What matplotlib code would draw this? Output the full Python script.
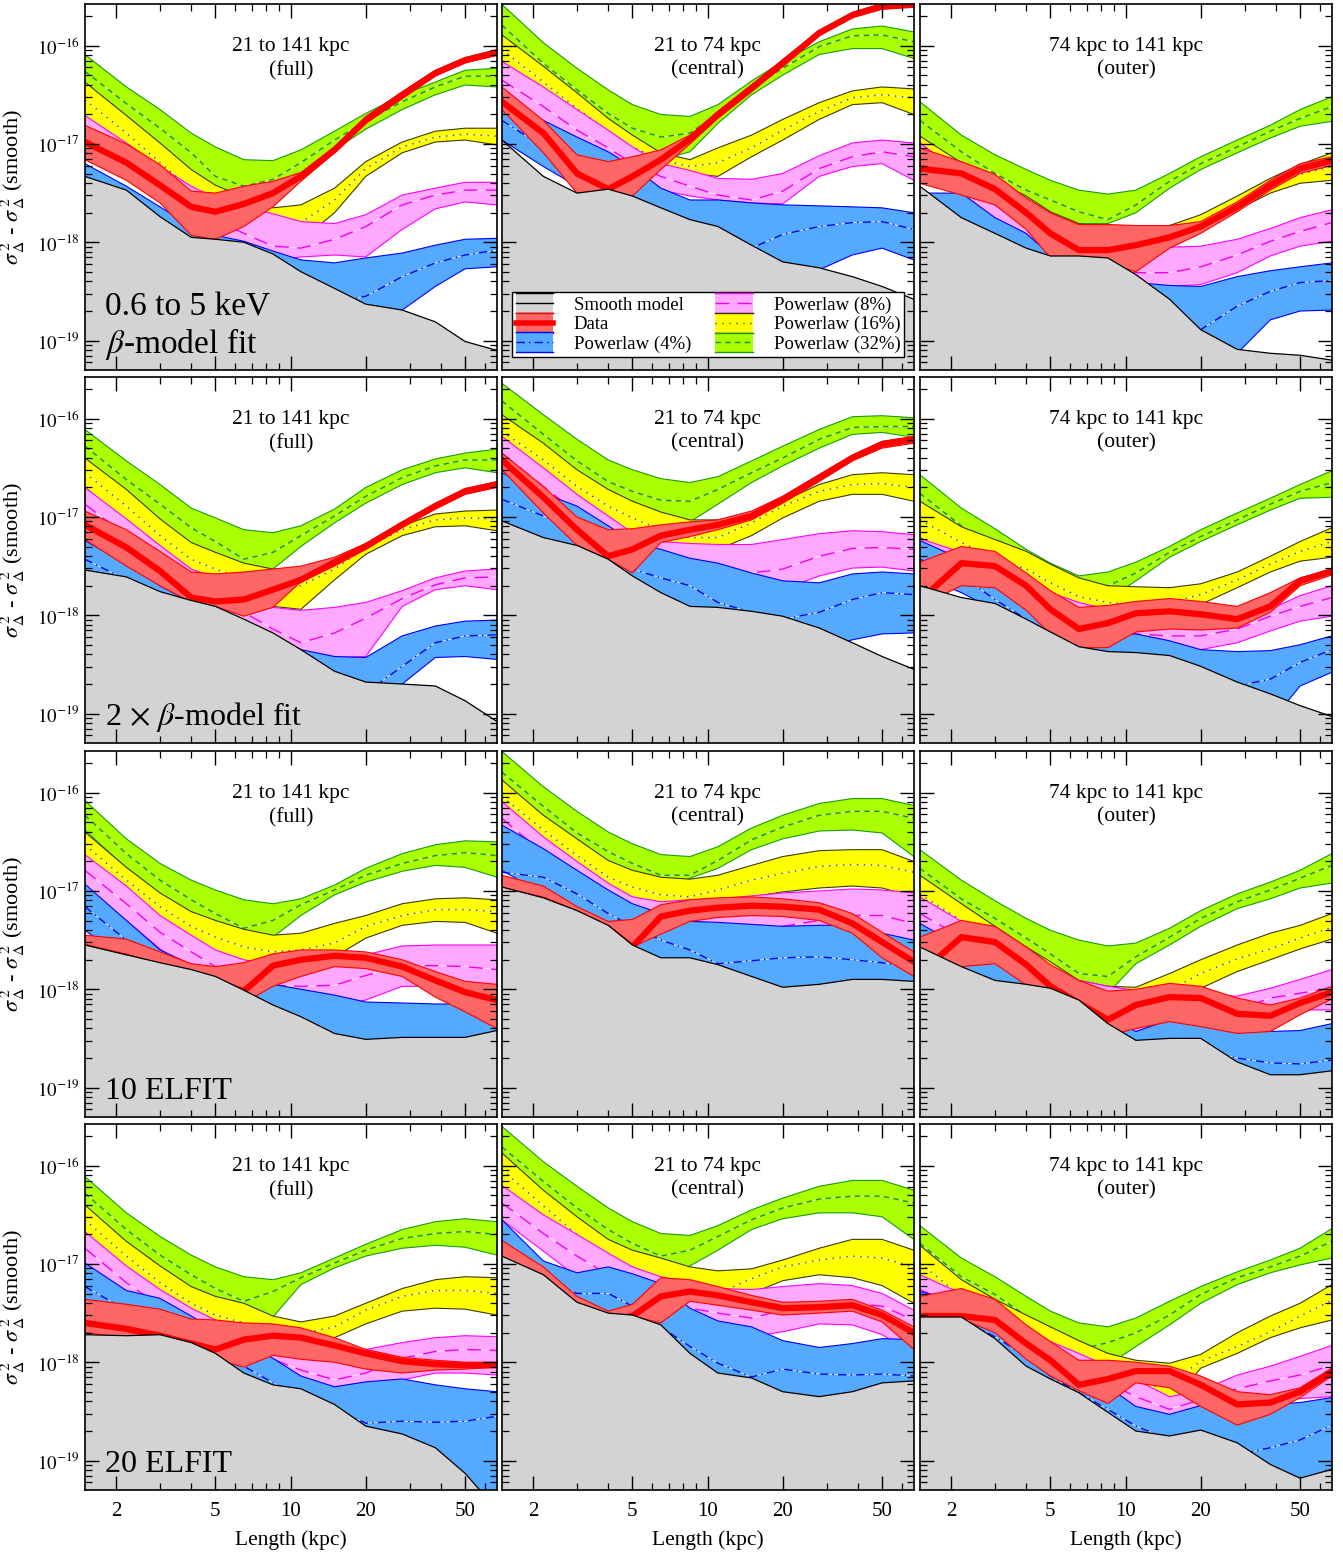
import numpy as np
import matplotlib
matplotlib.use("Agg")
import matplotlib.pyplot as plt
from matplotlib.patches import Rectangle
from matplotlib.lines import Line2D
from matplotlib.legend_handler import HandlerBase
from matplotlib.ticker import FixedLocator, NullFormatter

plt.rcParams['font.family'] = ['Liberation Serif', 'DejaVu Serif']
plt.rcParams['mathtext.fontset'] = 'stix'

# length scale grid (kpc), shared by every panel
length_kpc = [1.5, 2.2, 3, 4, 5, 6.5, 8.5, 11, 15, 20, 28, 38, 50, 67]

col_titles = ['21 to 141 kpc\n(full)', '21 to 74 kpc\n(central)', '74 kpc to 141 kpc\n(outer)']
row_labels = [['0.6 to 5 keV', r'$\beta$-model fit'], [r'2 $\times$ $\beta$-model fit'],
              ['10 ELFIT'], ['20 ELFIT']]
x_tick_values = [2, 5, 10, 20, 50]
x_tick_labels = ['2', '5', '10', '20', '50']
y_tick_values = [1e-19, 1e-18, 1e-17, 1e-16]
legend_labels = ['Smooth model', 'Data', 'Powerlaw (4%)', 'Powerlaw (8%)',
                 'Powerlaw (16%)', 'Powerlaw (32%)']

# all values are log10 of sigma^2 - sigma^2(smooth); rows = panels, row by row
smooth = [
    [-17.33, -17.47, -17.74, -17.95, -17.97, -18.00, -18.12, -18.30, -18.47, -18.63, -18.69, -18.81, -19.01, -19.10],
    [-16.96, -17.33, -17.50, -17.46, -17.53, -17.65, -17.77, -17.84, -18.03, -18.20, -18.26, -18.35, -18.45, -18.58],
    [-17.43, -17.75, -17.91, -18.06, -18.14, -18.14, -18.16, -18.33, -18.58, -18.89, -19.09, -19.13, -19.15, -19.20],
    [-17.54, -17.61, -17.76, -17.85, -17.91, -18.04, -18.18, -18.35, -18.57, -18.68, -18.70, -18.72, -18.87, -19.08],
    [-17.04, -17.21, -17.29, -17.43, -17.60, -17.77, -17.91, -17.92, -17.96, -18.01, -18.13, -18.28, -18.42, -18.55],
    [-17.70, -17.82, -17.88, -18.04, -18.17, -18.32, -18.37, -18.38, -18.41, -18.52, -18.68, -18.80, -18.92, -19.03],
    [-17.55, -17.65, -17.73, -17.80, -17.87, -18.01, -18.16, -18.28, -18.45, -18.51, -18.49, -18.49, -18.49, -18.42],
    [-16.96, -17.07, -17.20, -17.35, -17.55, -17.68, -17.68, -17.75, -17.87, -17.98, -17.95, -17.90, -17.90, -17.92],
    [-17.57, -17.77, -17.91, -17.95, -17.99, -18.11, -18.35, -18.52, -18.50, -18.50, -18.74, -18.87, -18.87, -18.83],
    [-17.72, -17.73, -17.72, -17.80, -17.91, -18.11, -18.23, -18.27, -18.43, -18.65, -18.73, -18.87, -19.13, -19.50],
    [-16.92, -17.11, -17.39, -17.50, -17.52, -17.62, -17.91, -18.11, -18.16, -18.30, -18.35, -18.30, -18.21, -18.19],
    [-17.54, -17.54, -17.76, -18.04, -18.17, -18.31, -18.51, -18.70, -18.75, -18.69, -18.82, -19.04, -19.18, -19.09],
]

data_mid = [
    [-16.98, -17.19, -17.42, -17.64, -17.69, -17.61, -17.50, -17.33, -17.06, -16.76, -16.50, -16.28, -16.15, -16.07],
    [-16.57, -16.89, -17.30, -17.46, -17.33, -17.16, -16.95, -16.70, -16.43, -16.18, -15.87, -15.69, -15.60, -15.58],
    [-17.25, -17.30, -17.46, -17.70, -17.91, -18.08, -18.08, -18.03, -17.95, -17.84, -17.64, -17.42, -17.25, -17.17],
    [-17.08, -17.31, -17.55, -17.82, -17.86, -17.84, -17.74, -17.64, -17.46, -17.30, -17.08, -16.89, -16.74, -16.67],
    [-16.42, -16.80, -17.13, -17.40, -17.33, -17.19, -17.13, -17.08, -16.99, -16.82, -16.60, -16.40, -16.26, -16.21],
    [-17.85, -17.47, -17.50, -17.70, -17.94, -18.14, -18.08, -17.98, -17.96, -17.99, -18.04, -17.91, -17.65, -17.55],
    [-17.57, -17.67, -17.77, -17.85, -17.92, -18.02, -17.76, -17.70, -17.66, -17.68, -17.77, -17.91, -18.03, -18.11],
    [-16.99, -17.09, -17.23, -17.38, -17.57, -17.26, -17.20, -17.17, -17.15, -17.16, -17.19, -17.33, -17.52, -17.72],
    [-17.84, -17.47, -17.52, -17.75, -17.97, -18.14, -18.31, -18.16, -18.08, -18.09, -18.25, -18.27, -18.14, -18.03],
    [-17.60, -17.66, -17.73, -17.81, -17.87, -17.77, -17.73, -17.75, -17.83, -17.91, -17.99, -18.02, -18.03, -18.03],
    [-16.99, -17.18, -17.43, -17.57, -17.53, -17.33, -17.28, -17.32, -17.39, -17.45, -17.44, -17.42, -17.52, -17.70],
    [-17.53, -17.53, -17.57, -17.81, -17.98, -18.23, -18.17, -18.09, -18.09, -18.23, -18.43, -18.41, -18.30, -18.10],
]

data_hi = [
    [-16.81, -17.00, -17.21, -17.48, -17.50, -17.43, -17.38, -17.29, -17.03, -16.72, -16.47, -16.25, -16.12, -16.04],
    [-16.42, -16.76, -17.11, -17.18, -17.13, -17.06, -16.91, -16.67, -16.40, -16.14, -15.85, -15.66, -15.57, -15.56],
    [-17.04, -17.18, -17.31, -17.55, -17.70, -17.82, -17.82, -17.83, -17.83, -17.79, -17.59, -17.37, -17.20, -17.13],
    [-16.94, -17.13, -17.35, -17.56, -17.58, -17.56, -17.53, -17.50, -17.41, -17.27, -17.05, -16.86, -16.71, -16.64],
    [-16.35, -16.69, -17.00, -17.13, -17.12, -17.08, -17.05, -17.03, -16.94, -16.79, -16.57, -16.37, -16.23, -16.18],
    [-17.46, -17.30, -17.35, -17.57, -17.75, -17.92, -17.90, -17.86, -17.83, -17.86, -17.91, -17.77, -17.62, -17.53],
    [-17.45, -17.49, -17.62, -17.74, -17.77, -17.73, -17.64, -17.60, -17.60, -17.62, -17.70, -17.82, -17.92, -17.95],
    [-16.84, -16.95, -17.16, -17.31, -17.29, -17.14, -17.09, -17.07, -17.06, -17.08, -17.12, -17.23, -17.42, -17.62],
    [-17.47, -17.30, -17.36, -17.57, -17.75, -17.91, -18.02, -18.00, -17.94, -17.97, -18.09, -18.16, -18.09, -17.97],
    [-17.36, -17.41, -17.46, -17.56, -17.57, -17.60, -17.61, -17.65, -17.75, -17.87, -17.95, -17.98, -18.00, -18.00],
    [-16.76, -17.03, -17.33, -17.48, -17.41, -17.14, -17.16, -17.23, -17.32, -17.39, -17.38, -17.36, -17.47, -17.64],
    [-17.33, -17.25, -17.36, -17.62, -17.79, -17.98, -17.98, -18.00, -18.04, -18.14, -18.30, -18.33, -18.26, -18.06],
]

data_lo = [
    [-17.16, -17.37, -17.60, -17.93, -17.97, -17.84, -17.64, -17.38, -17.09, -16.79, -16.54, -16.31, -16.17, -16.10],
    [-16.65, -17.09, -17.50, -17.47, -17.53, -17.26, -17.00, -16.74, -16.47, -16.21, -15.90, -15.71, -15.63, -15.61],
    [-17.40, -17.52, -17.62, -17.87, -18.16, -18.18, -18.21, -18.30, -18.06, -17.91, -17.69, -17.47, -17.30, -17.22],
    [-17.23, -17.50, -17.70, -17.87, -17.91, -18.01, -17.92, -17.66, -17.50, -17.33, -17.10, -16.92, -16.77, -16.70],
    [-16.52, -16.96, -17.29, -17.43, -17.57, -17.26, -17.20, -17.13, -17.03, -16.86, -16.64, -16.43, -16.30, -16.25],
    [-17.91, -17.70, -17.72, -17.95, -18.19, -18.33, -18.33, -18.17, -18.14, -18.15, -18.13, -17.97, -17.70, -17.59],
    [-17.59, -17.70, -17.84, -17.92, -18.01, -18.14, -17.97, -17.87, -17.77, -17.79, -17.87, -18.08, -18.23, -18.40],
    [-16.96, -17.08, -17.22, -17.37, -17.57, -17.44, -17.31, -17.27, -17.25, -17.26, -17.30, -17.43, -17.68, -17.87],
    [-17.91, -17.77, -17.74, -17.96, -18.04, -18.21, -18.47, -18.40, -18.33, -18.38, -18.45, -18.43, -18.26, -18.10],
    [-17.70, -17.75, -17.79, -17.87, -17.97, -18.05, -17.93, -17.97, -18.00, -18.07, -18.11, -18.08, -18.07, -18.05],
    [-16.94, -17.14, -17.42, -17.52, -17.53, -17.60, -17.38, -17.42, -17.47, -17.52, -17.50, -17.48, -17.59, -17.87],
    [-17.57, -17.56, -17.70, -17.97, -18.14, -18.29, -18.42, -18.21, -18.26, -18.45, -18.64, -18.53, -18.36, -18.14],
]

# powerlaw 32 %
pl32_hi = [
    [-16.09, -16.42, -16.65, -16.89, -17.03, -17.16, -17.17, -17.06, -16.87, -16.69, -16.50, -16.37, -16.25, -16.23],
    [-15.58, -15.97, -16.23, -16.45, -16.60, -16.70, -16.72, -16.60, -16.36, -16.16, -15.96, -15.83, -15.80, -15.86],
    [-16.57, -16.91, -17.11, -17.26, -17.37, -17.47, -17.51, -17.47, -17.30, -17.13, -16.96, -16.81, -16.65, -16.52],
    [-16.11, -16.43, -16.67, -16.91, -17.01, -17.13, -17.16, -17.09, -16.92, -16.70, -16.52, -16.41, -16.35, -16.31],
    [-15.64, -15.96, -16.21, -16.42, -16.52, -16.61, -16.65, -16.59, -16.43, -16.28, -16.11, -15.98, -15.97, -15.99],
    [-16.57, -16.91, -17.12, -17.33, -17.47, -17.60, -17.56, -17.46, -17.30, -17.13, -16.96, -16.81, -16.67, -16.53],
    [-16.08, -16.47, -16.72, -16.89, -16.99, -17.09, -17.13, -17.08, -16.94, -16.77, -16.62, -16.53, -16.49, -16.50],
    [-15.58, -15.94, -16.19, -16.40, -16.52, -16.63, -16.65, -16.55, -16.36, -16.23, -16.11, -16.06, -16.06, -16.13],
    [-16.58, -16.89, -17.10, -17.28, -17.40, -17.50, -17.56, -17.53, -17.38, -17.20, -17.03, -16.91, -16.79, -16.62],
    [-16.11, -16.48, -16.72, -16.91, -17.03, -17.13, -17.16, -17.09, -16.94, -16.80, -16.65, -16.57, -16.54, -16.57],
    [-15.60, -15.96, -16.21, -16.43, -16.57, -16.69, -16.71, -16.61, -16.45, -16.33, -16.21, -16.15, -16.15, -16.25],
    [-16.61, -16.94, -17.13, -17.33, -17.48, -17.60, -17.64, -17.55, -17.38, -17.23, -17.08, -16.96, -16.84, -16.64],
]
pl32_mid = [
    [-16.26, -16.59, -16.84, -17.09, -17.33, -17.43, -17.36, -17.19, -16.96, -16.77, -16.57, -16.42, -16.31, -16.31],
    [-15.79, -16.18, -16.45, -16.69, -16.84, -16.93, -16.89, -16.69, -16.43, -16.23, -16.01, -15.90, -15.89, -15.96],
    [-16.76, -17.08, -17.30, -17.47, -17.57, -17.69, -17.77, -17.62, -17.38, -17.20, -17.03, -16.87, -16.74, -16.62],
    [-16.28, -16.62, -16.87, -17.11, -17.25, -17.43, -17.36, -17.19, -16.99, -16.79, -16.60, -16.48, -16.42, -16.42],
    [-15.82, -16.16, -16.43, -16.64, -16.74, -16.83, -16.84, -16.72, -16.55, -16.40, -16.21, -16.09, -16.08, -16.08],
    [-16.76, -17.09, -17.30, -17.50, -17.65, -17.77, -17.70, -17.57, -17.36, -17.20, -17.03, -16.87, -16.74, -16.65],
    [-16.23, -16.62, -16.89, -17.09, -17.23, -17.38, -17.30, -17.14, -16.99, -16.84, -16.72, -16.64, -16.61, -16.64],
    [-15.79, -16.14, -16.41, -16.60, -16.72, -16.84, -16.84, -16.69, -16.48, -16.35, -16.23, -16.19, -16.19, -16.26],
    [-16.77, -17.08, -17.28, -17.48, -17.64, -17.84, -17.87, -17.67, -17.47, -17.28, -17.11, -16.99, -16.87, -16.74],
    [-16.28, -16.65, -16.91, -17.11, -17.25, -17.38, -17.28, -17.14, -16.99, -16.86, -16.74, -16.69, -16.67, -16.70],
    [-15.81, -16.16, -16.43, -16.65, -16.79, -16.92, -16.86, -16.72, -16.55, -16.43, -16.34, -16.31, -16.31, -16.38],
    [-16.79, -17.13, -17.31, -17.53, -17.70, -17.87, -17.80, -17.70, -17.52, -17.31, -17.14, -17.03, -16.92, -16.77],
]
pl32_lo = [
    [-16.42, -16.75, -17.03, -17.30, -17.50, -17.64, -17.57, -17.33, -17.06, -16.85, -16.65, -16.50, -16.40, -16.42],
    [-15.99, -16.38, -16.67, -16.92, -17.08, -17.16, -17.08, -16.79, -16.50, -16.30, -16.09, -16.03, -16.03, -16.13],
    [-16.94, -17.26, -17.48, -17.67, -17.77, -17.81, -17.81, -17.70, -17.45, -17.26, -17.09, -16.94, -16.82, -16.77],
    [-16.45, -16.80, -17.08, -17.31, -17.46, -17.53, -17.53, -17.30, -17.06, -16.86, -16.67, -16.55, -16.50, -16.55],
    [-16.01, -16.36, -16.65, -16.86, -16.96, -17.03, -17.05, -16.87, -16.65, -16.48, -16.30, -16.16, -16.14, -16.19],
    [-16.94, -17.28, -17.48, -17.67, -17.81, -17.91, -17.84, -17.65, -17.41, -17.25, -17.08, -16.93, -16.81, -16.80],
    [-16.38, -16.77, -17.06, -17.30, -17.43, -17.47, -17.47, -17.25, -17.04, -16.91, -16.80, -16.74, -16.76, -16.86],
    [-15.99, -16.35, -16.62, -16.81, -16.92, -17.01, -16.87, -16.77, -16.58, -16.47, -16.39, -16.38, -16.41, -16.65],
    [-16.96, -17.26, -17.47, -17.67, -17.84, -18.01, -18.04, -17.74, -17.55, -17.36, -17.18, -17.08, -16.97, -16.92],
    [-16.45, -16.82, -17.09, -17.31, -17.47, -17.57, -17.54, -17.21, -17.04, -16.92, -16.84, -16.81, -16.83, -16.91],
    [-16.01, -16.36, -16.65, -16.87, -17.01, -17.12, -17.02, -16.86, -16.65, -16.54, -16.48, -16.48, -16.52, -16.75],
    [-16.97, -17.31, -17.50, -17.72, -17.87, -18.04, -18.03, -17.84, -17.62, -17.40, -17.21, -17.09, -17.01, -16.94],
]

# powerlaw 16 %
pl16_hi = [
    [-16.37, -16.71, -16.99, -17.26, -17.42, -17.54, -17.65, -17.62, -17.45, -17.18, -16.98, -16.87, -16.84, -16.84],
    [-15.89, -16.21, -16.48, -16.74, -16.91, -17.09, -17.16, -17.04, -16.91, -16.75, -16.58, -16.46, -16.42, -16.44],
    [-16.92, -17.19, -17.37, -17.53, -17.69, -17.81, -17.87, -17.87, -17.83, -17.72, -17.53, -17.35, -17.21, -17.09],
    [-16.40, -16.72, -17.02, -17.26, -17.36, -17.47, -17.53, -17.55, -17.43, -17.27, -17.09, -16.97, -16.94, -16.93],
    [-15.96, -16.25, -16.52, -16.72, -16.84, -16.95, -17.03, -17.03, -16.96, -16.84, -16.67, -16.57, -16.55, -16.57],
    [-16.84, -17.10, -17.23, -17.35, -17.48, -17.62, -17.70, -17.71, -17.72, -17.68, -17.56, -17.40, -17.25, -17.11],
    [-16.40, -16.76, -17.02, -17.21, -17.30, -17.39, -17.45, -17.43, -17.33, -17.25, -17.13, -17.08, -17.07, -17.09],
    [-15.87, -16.23, -16.47, -16.69, -16.79, -16.86, -16.88, -16.84, -16.74, -16.65, -16.59, -16.58, -16.58, -16.70],
    [-16.84, -17.13, -17.36, -17.57, -17.72, -17.91, -17.97, -17.98, -17.84, -17.70, -17.55, -17.43, -17.35, -17.23],
    [-16.40, -16.77, -17.02, -17.23, -17.33, -17.40, -17.53, -17.59, -17.53, -17.40, -17.25, -17.16, -17.13, -17.14],
    [-15.87, -16.25, -16.52, -16.75, -16.86, -16.94, -17.03, -17.07, -17.05, -16.96, -16.84, -16.75, -16.75, -16.86],
    [-16.81, -17.16, -17.36, -17.52, -17.64, -17.78, -17.91, -17.98, -18.01, -17.92, -17.70, -17.53, -17.40, -17.21],
]
pl16_mid = [
    [-16.55, -16.89, -17.19, -17.46, -17.63, -17.77, -17.84, -17.80, -17.57, -17.25, -17.03, -16.93, -16.90, -16.92],
    [-16.04, -16.37, -16.64, -16.87, -17.03, -17.16, -17.23, -17.19, -17.04, -16.86, -16.67, -16.53, -16.50, -16.53],
    [-17.03, -17.30, -17.48, -17.67, -17.84, -17.97, -18.04, -18.04, -17.96, -17.81, -17.61, -17.43, -17.31, -17.23],
    [-16.55, -16.89, -17.19, -17.43, -17.53, -17.64, -17.70, -17.70, -17.53, -17.31, -17.13, -17.03, -17.01, -17.02],
    [-16.13, -16.42, -16.69, -16.89, -17.01, -17.13, -17.21, -17.21, -17.06, -16.89, -16.74, -16.67, -16.66, -16.70],
    [-17.03, -17.26, -17.42, -17.53, -17.67, -17.81, -17.87, -17.89, -17.87, -17.79, -17.64, -17.48, -17.35, -17.25],
    [-16.53, -16.89, -17.16, -17.36, -17.47, -17.57, -17.62, -17.60, -17.53, -17.36, -17.25, -17.19, -17.19, -17.21],
    [-16.04, -16.38, -16.64, -16.86, -16.96, -17.04, -17.06, -16.99, -16.89, -16.82, -16.75, -16.73, -16.74, -16.81],
    [-17.03, -17.30, -17.53, -17.74, -17.89, -18.04, -18.13, -18.13, -18.01, -17.84, -17.69, -17.59, -17.48, -17.37],
    [-16.55, -16.92, -17.19, -17.40, -17.52, -17.60, -17.67, -17.71, -17.64, -17.47, -17.33, -17.27, -17.27, -17.30],
    [-16.04, -16.41, -16.70, -16.94, -17.06, -17.16, -17.26, -17.30, -17.15, -17.03, -16.96, -16.92, -16.94, -17.03],
    [-16.99, -17.33, -17.53, -17.70, -17.87, -18.04, -18.18, -18.28, -18.22, -17.99, -17.84, -17.69, -17.53, -17.37],
]
pl16_lo = [
    [-16.74, -17.08, -17.40, -17.67, -17.87, -18.01, -18.08, -17.98, -17.70, -17.33, -17.09, -16.98, -16.96, -17.01],
    [-16.19, -16.52, -16.79, -17.03, -17.19, -17.26, -17.30, -17.33, -17.13, -16.96, -16.75, -16.60, -16.58, -16.70],
    [-17.13, -17.40, -17.60, -17.81, -17.99, -18.14, -18.21, -18.21, -18.06, -17.89, -17.67, -17.50, -17.40, -17.37],
    [-16.70, -17.06, -17.36, -17.60, -17.74, -17.84, -17.91, -17.94, -17.64, -17.38, -17.19, -17.10, -17.09, -17.14],
    [-16.30, -16.58, -16.86, -17.06, -17.19, -17.30, -17.33, -17.33, -17.19, -17.01, -16.84, -16.77, -16.77, -16.84],
    [-17.21, -17.43, -17.58, -17.70, -17.84, -17.97, -18.04, -18.06, -18.01, -17.89, -17.72, -17.56, -17.45, -17.41],
    [-16.67, -17.04, -17.31, -17.52, -17.64, -17.74, -17.79, -17.77, -17.67, -17.48, -17.35, -17.31, -17.32, -17.43],
    [-16.21, -16.55, -16.80, -17.03, -17.13, -17.20, -17.21, -17.13, -17.06, -17.01, -16.97, -16.95, -16.97, -17.06],
    [-17.21, -17.47, -17.70, -17.91, -18.06, -18.21, -18.30, -18.28, -18.14, -17.99, -17.82, -17.70, -17.59, -17.49],
    [-16.70, -17.08, -17.35, -17.55, -17.67, -17.77, -17.84, -17.86, -17.75, -17.61, -17.48, -17.45, -17.46, -17.52],
    [-16.21, -16.58, -16.87, -17.11, -17.23, -17.36, -17.43, -17.43, -17.30, -17.17, -17.11, -17.14, -17.22, -17.40],
    [-17.18, -17.50, -17.70, -17.91, -18.08, -18.25, -18.40, -18.49, -18.45, -18.06, -17.91, -17.75, -17.65, -17.57],
]

# powerlaw 8 %
pl8_hi = [
    [-16.71, -16.99, -17.23, -17.43, -17.55, -17.64, -17.71, -17.79, -17.81, -17.72, -17.52, -17.45, -17.39, -17.39],
    [-16.16, -16.42, -16.65, -16.86, -17.03, -17.20, -17.27, -17.35, -17.36, -17.30, -17.12, -16.99, -16.96, -16.99],
    [-16.99, -17.30, -17.50, -17.70, -17.87, -17.97, -18.05, -18.06, -18.05, -18.04, -17.97, -17.86, -17.75, -17.67],
    [-16.70, -17.02, -17.29, -17.53, -17.62, -17.77, -17.92, -17.95, -17.92, -17.87, -17.75, -17.62, -17.55, -17.53],
    [-16.18, -16.50, -16.77, -16.99, -17.16, -17.25, -17.27, -17.28, -17.28, -17.23, -17.17, -17.14, -17.15, -17.18],
    [-17.22, -17.36, -17.50, -17.64, -17.77, -17.87, -17.94, -18.01, -18.06, -18.08, -18.04, -17.94, -17.80, -17.70],
    [-16.63, -16.95, -17.25, -17.45, -17.60, -17.70, -17.75, -17.75, -17.74, -17.65, -17.56, -17.55, -17.55, -17.55],
    [-16.09, -16.45, -16.70, -16.92, -17.06, -17.11, -17.09, -17.08, -17.05, -17.02, -17.00, -16.98, -16.99, -17.02],
    [-17.06, -17.31, -17.50, -17.67, -17.79, -17.91, -17.97, -18.01, -18.04, -18.06, -18.07, -17.99, -17.90, -17.80],
    [-16.67, -17.02, -17.26, -17.45, -17.57, -17.65, -17.72, -17.79, -17.84, -17.87, -17.80, -17.75, -17.73, -17.74],
    [-16.20, -16.50, -16.70, -16.89, -17.03, -17.13, -17.20, -17.25, -17.26, -17.23, -17.20, -17.22, -17.30, -17.47],
    [-17.11, -17.30, -17.45, -17.64, -17.79, -17.91, -18.04, -18.18, -18.35, -18.29, -18.13, -18.04, -17.94, -17.83],
]
pl8_mid = [
    [-16.89, -17.16, -17.41, -17.64, -17.77, -17.91, -18.04, -18.06, -17.97, -17.84, -17.62, -17.52, -17.47, -17.47],
    [-16.35, -16.62, -16.86, -17.04, -17.20, -17.33, -17.43, -17.52, -17.57, -17.48, -17.25, -17.13, -17.08, -17.13],
    [-17.13, -17.43, -17.62, -17.84, -18.03, -18.14, -18.25, -18.31, -18.31, -18.25, -18.13, -17.99, -17.89, -17.80],
    [-16.87, -17.19, -17.46, -17.70, -17.84, -17.97, -18.14, -18.28, -18.18, -18.03, -17.83, -17.69, -17.62, -17.61],
    [-16.35, -16.69, -16.96, -17.16, -17.31, -17.41, -17.48, -17.53, -17.57, -17.53, -17.40, -17.32, -17.31, -17.33],
    [-17.38, -17.50, -17.64, -17.79, -17.92, -18.04, -18.13, -18.19, -18.21, -18.21, -18.14, -18.01, -17.91, -17.82],
    [-16.79, -17.13, -17.42, -17.62, -17.77, -17.89, -17.96, -17.97, -17.96, -17.86, -17.76, -17.76, -17.77, -17.80],
    [-16.26, -16.62, -16.89, -17.09, -17.21, -17.28, -17.31, -17.33, -17.35, -17.36, -17.30, -17.25, -17.25, -17.33],
    [-17.23, -17.47, -17.65, -17.80, -17.94, -18.08, -18.18, -18.25, -18.28, -18.26, -18.21, -18.09, -18.04, -17.99],
    [-16.84, -17.19, -17.43, -17.62, -17.74, -17.87, -17.97, -18.08, -18.18, -18.11, -17.96, -17.89, -17.87, -17.88],
    [-16.38, -16.69, -16.92, -17.11, -17.25, -17.36, -17.45, -17.50, -17.55, -17.47, -17.42, -17.40, -17.43, -17.57],
    [-17.26, -17.45, -17.60, -17.79, -17.94, -18.08, -18.21, -18.35, -18.48, -18.38, -18.27, -18.19, -18.13, -18.03],
]
pl8_lo = [
    [-17.06, -17.33, -17.59, -17.84, -17.98, -18.11, -18.18, -18.15, -18.13, -18.15, -17.87, -17.66, -17.59, -17.62],
    [-16.52, -16.82, -17.06, -17.23, -17.36, -17.47, -17.53, -17.57, -17.60, -17.61, -17.33, -17.23, -17.20, -17.37],
    [-17.26, -17.57, -17.77, -17.97, -18.18, -18.31, -18.42, -18.45, -18.45, -18.43, -18.31, -18.14, -18.04, -17.99],
    [-17.04, -17.36, -17.64, -17.87, -18.04, -18.18, -18.31, -18.38, -18.43, -18.42, -17.91, -17.74, -17.70, -17.74],
    [-16.52, -16.86, -17.13, -17.33, -17.47, -17.58, -17.67, -17.74, -17.77, -17.74, -17.60, -17.52, -17.51, -17.55],
    [-17.53, -17.65, -17.79, -17.94, -18.08, -18.21, -18.30, -18.35, -18.37, -18.35, -18.28, -18.16, -18.06, -18.01],
    [-16.96, -17.30, -17.59, -17.79, -17.94, -18.06, -18.14, -18.18, -18.18, -18.11, -17.97, -17.97, -17.99, -18.02],
    [-16.43, -16.79, -17.06, -17.26, -17.38, -17.45, -17.48, -17.50, -17.53, -17.55, -17.50, -17.45, -17.47, -17.57],
    [-17.40, -17.64, -17.82, -17.97, -18.11, -18.25, -18.35, -18.43, -18.42, -18.38, -18.31, -18.23, -18.21, -18.21],
    [-17.01, -17.36, -17.60, -17.79, -17.91, -18.04, -18.14, -18.25, -18.25, -18.21, -18.18, -18.11, -18.11, -18.13],
    [-16.55, -16.87, -17.13, -17.31, -17.45, -17.57, -17.67, -17.74, -17.74, -17.69, -17.61, -17.62, -17.72, -17.91],
    [-17.43, -17.60, -17.76, -17.94, -18.09, -18.25, -18.38, -18.52, -18.65, -18.52, -18.42, -18.38, -18.37, -18.35],
]

# powerlaw 4 %
pl4_hi = [
    [-17.20, -17.43, -17.64, -17.84, -17.93, -17.99, -18.09, -18.18, -18.21, -18.16, -18.11, -18.03, -17.97, -17.96],
    [-16.55, -16.76, -16.93, -17.08, -17.23, -17.45, -17.57, -17.57, -17.60, -17.62, -17.63, -17.64, -17.65, -17.70],
    [-17.50, -17.50, -17.75, -17.91, -18.13, -18.25, -18.35, -18.41, -18.44, -18.45, -18.35, -18.29, -18.25, -18.21],
    [-17.24, -17.48, -17.70, -17.87, -17.97, -18.09, -18.21, -18.35, -18.42, -18.43, -18.21, -18.11, -18.06, -18.05],
    [-16.55, -16.76, -16.89, -17.09, -17.25, -17.33, -17.42, -17.47, -17.57, -17.65, -17.67, -17.58, -17.56, -17.58],
    [-17.24, -17.43, -17.70, -17.87, -18.04, -18.18, -18.21, -18.19, -18.26, -18.35, -18.37, -18.36, -18.30, -18.21],
    [-16.93, -17.30, -17.60, -17.75, -17.79, -17.87, -17.95, -18.00, -18.06, -18.13, -18.14, -18.15, -18.15, -18.11],
    [-16.33, -16.57, -16.79, -16.99, -17.13, -17.23, -17.31, -17.32, -17.34, -17.36, -17.35, -17.35, -17.43, -17.50],
    [-17.33, -17.57, -17.73, -17.87, -17.97, -18.11, -18.28, -18.43, -18.31, -18.35, -18.42, -18.43, -18.42, -18.35],
    [-16.99, -17.27, -17.35, -17.53, -17.67, -17.81, -17.96, -18.14, -18.25, -18.20, -18.17, -18.23, -18.27, -18.30],
    [-16.55, -16.97, -17.09, -17.03, -17.10, -17.20, -17.45, -17.58, -17.64, -17.78, -17.85, -17.81, -17.76, -17.77],
    [-17.28, -17.39, -17.53, -17.74, -17.94, -18.11, -18.25, -18.45, -18.53, -18.44, -18.43, -18.43, -18.41, -18.36],
]
pl4_mid = [
    [-17.37, -17.57, -17.84, -18.04, -18.15, -18.25, -18.38, -18.52, -18.60, -18.55, -18.35, -18.21, -18.13, -18.08],
    [-16.76, -17.03, -17.23, -17.38, -17.53, -17.70, -17.87, -17.97, -18.06, -17.92, -17.84, -17.80, -17.79, -17.87],
    [-17.64, -17.77, -17.97, -18.14, -18.31, -18.45, -18.55, -18.66, -18.79, -18.89, -18.65, -18.50, -18.41, -18.39],
    [-17.43, -17.64, -17.87, -18.04, -18.14, -18.28, -18.41, -18.58, -18.72, -18.79, -18.52, -18.28, -18.21, -18.20],
    [-16.82, -16.99, -17.16, -17.36, -17.53, -17.62, -17.70, -17.87, -17.97, -18.04, -17.97, -17.84, -17.77, -17.79],
    [-17.43, -17.60, -17.84, -18.04, -18.21, -18.35, -18.41, -18.45, -18.55, -18.65, -18.72, -18.65, -18.48, -18.35],
    [-17.16, -17.50, -17.77, -17.94, -18.04, -18.18, -18.31, -18.45, -18.55, -18.58, -18.57, -18.55, -18.53, -18.48],
    [-16.81, -16.86, -17.03, -17.23, -17.36, -17.50, -17.60, -17.74, -17.71, -17.68, -17.67, -17.70, -17.73, -17.79],
    [-17.53, -17.77, -17.94, -18.08, -18.18, -18.31, -18.48, -18.58, -18.60, -18.62, -18.70, -18.75, -18.76, -18.72],
    [-17.23, -17.47, -17.60, -17.77, -17.91, -18.04, -18.21, -18.35, -18.48, -18.62, -18.60, -18.61, -18.60, -18.55],
    [-16.76, -17.16, -17.30, -17.30, -17.43, -17.64, -17.84, -18.01, -18.15, -18.07, -18.12, -18.13, -18.12, -18.14],
    [-17.47, -17.57, -17.74, -17.94, -18.14, -18.31, -18.48, -18.65, -18.79, -18.89, -18.94, -18.87, -18.79, -18.64],
]
pl4_lo = [
    [-17.54, -17.74, -18.01, -18.21, -18.35, -18.49, -18.65, -18.79, -18.89, -18.79, -18.69, -18.45, -18.27, -18.25],
    [-16.96, -17.23, -17.43, -17.60, -17.77, -17.94, -18.11, -18.25, -18.35, -18.35, -18.28, -18.13, -18.06, -18.18],
    [-17.77, -17.97, -18.18, -18.35, -18.52, -18.69, -18.82, -18.96, -19.09, -19.20, -19.13, -18.79, -18.70, -18.69],
    [-17.60, -17.80, -18.04, -18.21, -18.35, -18.48, -18.62, -18.79, -18.92, -18.96, -18.70, -18.43, -18.42, -18.45],
    [-17.09, -17.23, -17.43, -17.64, -17.81, -17.91, -18.01, -18.14, -18.25, -18.35, -18.35, -18.25, -18.19, -18.18],
    [-17.60, -17.77, -17.95, -18.21, -18.38, -18.52, -18.62, -18.69, -18.82, -18.96, -19.06, -19.09, -18.72, -18.58],
    [-17.40, -17.70, -17.94, -18.11, -18.24, -18.41, -18.58, -18.72, -18.86, -18.92, -18.92, -18.89, -18.86, -18.79],
    [-16.79, -17.03, -17.23, -17.43, -17.60, -17.74, -17.87, -18.04, -18.11, -18.11, -18.08, -18.08, -18.11, -18.18],
    [-17.74, -17.97, -18.14, -18.28, -18.38, -18.52, -18.69, -18.79, -18.82, -18.87, -18.96, -19.06, -19.03, -18.96],
    [-17.47, -17.67, -17.84, -18.01, -18.14, -18.28, -18.45, -18.58, -18.75, -18.92, -19.03, -19.09, -19.25, -19.60],
    [-16.96, -17.33, -17.50, -17.57, -17.70, -17.91, -18.11, -18.31, -18.45, -18.52, -18.55, -18.52, -18.45, -18.45],
    [-17.67, -17.77, -17.94, -18.14, -18.35, -18.52, -18.69, -18.86, -19.03, -19.13, -19.20, -19.26, -19.25, -19.16],
]

# band styles: fill, edge, centre-line colour, centre-line style (drawn back to front)
bands = [
    (pl32_lo, pl32_mid, pl32_hi, '#aaff00', '#1a9a1a', '#179017', (0, (4, 3))),
    (pl16_lo, pl16_mid, pl16_hi, '#ffff00', '#3a3a10', '#4a4a00', (0, (1, 4))),
    (pl8_lo, pl8_mid, pl8_hi, '#ffa8ff', '#ff00ff', '#ee00ee', (0, (10, 6))),
    (pl4_lo, pl4_mid, pl4_hi, '#55aaff', '#0000ff', '#0000ee', (0, (6, 3, 1, 3))),
]


class BandKey:
    def __init__(self, fc, ec, lc, ls, lw):
        self.fc, self.ec, self.lc, self.ls, self.lw = fc, ec, lc, ls, lw


class BandHandler(HandlerBase):
    def create_artists(self, legend, h, xd, yd, w, ht, fs, trans):
        x0, y0 = -xd, -yd - 2
        ht = ht + 4
        arts = [Rectangle((x0, y0), w, ht, facecolor=h.fc, edgecolor='none', transform=trans)]
        for yy in (y0, y0 + ht):
            arts.append(Line2D([x0, x0 + w], [yy, yy], color=h.ec, lw=1.0, transform=trans))
        arts.append(Line2D([x0, x0 + w], [y0 + ht / 2] * 2, color=h.lc, ls=h.ls, lw=h.lw,
                           transform=trans))
        return arts


x = np.array(length_kpc)
fig = plt.figure(figsize=(13.43, 15.55), dpi=100)

col_left = [85, 502, 920]
row_top = [4, 377, 751, 1124]
W, H = 1343.0, 1555.0

for r in range(4):
    for c in range(3):
        k = r * 3 + c
        ax = fig.add_axes([col_left[c] / W, 1 - (row_top[r] + 366) / H, 412 / W, 366 / H])
        ax.set_xscale('log')
        ax.set_yscale('log')

        z = 1
        for lo, mid, hi, fc, ec, lc, ls in bands:
            ylo, ymid, yhi = 10 ** np.array(lo[k]), 10 ** np.array(mid[k]), 10 ** np.array(hi[k])
            ax.fill_between(x, ylo, yhi, facecolor=fc, edgecolor='none', zorder=z)
            ax.plot(x, ylo, color=ec, lw=0.8, zorder=z + 0.1)
            ax.plot(x, yhi, color=ec, lw=0.8, zorder=z + 0.1)
            ax.plot(x, ymid, color='white', lw=0.5, alpha=0.9, zorder=z + 0.2)
            ax.plot(x, ymid, color=lc, lw=1.0, ls=ls, zorder=z + 0.3)
            z += 1

        dlo, dmid, dhi = (10 ** np.array(d[k]) for d in (data_lo, data_mid, data_hi))
        ax.fill_between(x, dlo, dhi, facecolor='#ff6666', edgecolor='none', zorder=z)
        ax.plot(x, dlo, color='#ff0000', lw=0.8, zorder=z + 0.1)
        ax.plot(x, dhi, color='#ff0000', lw=0.8, zorder=z + 0.1)
        ax.plot(x, dmid, color='#ff0000', lw=4.5, zorder=z + 0.2)
        z += 1

        sm = 10 ** np.array(smooth[k])
        ax.fill_between(x, 1e-22, sm, facecolor='#d3d3d3', edgecolor='none', zorder=z)
        ax.plot(x, sm, color='black', lw=0.9, zorder=z + 0.1)

        ax.set_xlim(1.502, 67.1)
        ax.set_ylim(10 ** -19.30, 10 ** -15.576)

        ax.xaxis.set_major_locator(FixedLocator(x_tick_values))
        ax.xaxis.set_minor_locator(FixedLocator([3, 4, 6, 7, 8, 9, 30, 40, 60]))
        ax.xaxis.set_minor_formatter(NullFormatter())
        ax.yaxis.set_major_locator(FixedLocator(y_tick_values))
        ax.yaxis.set_minor_locator(FixedLocator(
            [m * 10.0 ** e for e in (-20, -19, -18, -17, -16) for m in range(2, 10)
             if 10 ** -19.30 < m * 10.0 ** e < 10 ** -15.576]))
        ax.yaxis.set_minor_formatter(NullFormatter())
        if r == 3:
            ax.set_xticklabels(x_tick_labels)
            ax.set_xlabel('Length (kpc)', fontsize=15.5, labelpad=6)
        else:
            ax.set_xticklabels([])
        if c != 0:
            ax.set_yticklabels([])
        else:
            ax.set_yticklabels([r'$10^{-19}$', r'$10^{-18}$', r'$10^{-17}$', r'$10^{-16}$'])
            ax.set_ylabel(r'$\sigma^{\,2}_{\,\Delta}$ - $\sigma^{\,2}_{\,\Delta}$ (smooth)', fontsize=16)
            ax.yaxis.set_label_coords(-0.14, 0.5)
        ax.tick_params(which='both', direction='in', top=True, right=True)
        ax.tick_params(axis='x', labelsize=15, pad=9)
        ax.tick_params(axis='y', labelsize=13.5, pad=4)
        ax.tick_params(which='major', length=10, width=1.0)
        ax.tick_params(which='minor', length=5, width=0.9)
        ax.xaxis.set_zorder(20)
        ax.yaxis.set_zorder(20)
        for sp in ax.spines.values():
            sp.set_linewidth(1.2)
            sp.set_zorder(21)

        ax.text(0.5, 0.909, col_titles[c], transform=ax.transAxes, ha='center', va='top',
                fontsize=15.5, linespacing=1.3, zorder=11)

        if c == 0:
            labs = row_labels[r]
            if len(labs) == 2:
                ax.text(0.049, 0.148, labs[0], transform=ax.transAxes, fontsize=24,
                        va='baseline', zorder=11)
                ax.text(0.049, 0.046, labs[1], transform=ax.transAxes, fontsize=24,
                        va='baseline', zorder=11)
            else:
                ax.text(0.049, 0.05, labs[0], transform=ax.transAxes, fontsize=23,
                        va='baseline', zorder=11)

        if r == 0 and c == 1:
            keys = [BandKey('#d3d3d3', 'black', 'black', '-', 1.0),
                    BandKey('#ff6666', '#ff0000', '#ff0000', '-', 4.0)]
            for lo, mid, hi, fc, ec, lc, ls in [bands[3], bands[2], bands[1], bands[0]]:
                keys.append(BandKey(fc, ec, lc, ls, 1.0))
            leg = ax.legend(keys, legend_labels, handler_map={BandKey: BandHandler()},
                            loc='lower left', bbox_to_anchor=(0.024, 0.036, 0.952, 0.18),
                            mode='expand', ncol=2, fontsize=13.5, frameon=True, fancybox=False,
                            framealpha=1, edgecolor='black', borderpad=0.2, labelspacing=0.1,
                            handlelength=2.0, handleheight=0.8, handletextpad=1.1,
                            columnspacing=1.5, borderaxespad=0)
            leg.get_frame().set_linewidth(1.0)
            leg.set_zorder(25)

fig.savefig('out.png', dpi=100)
